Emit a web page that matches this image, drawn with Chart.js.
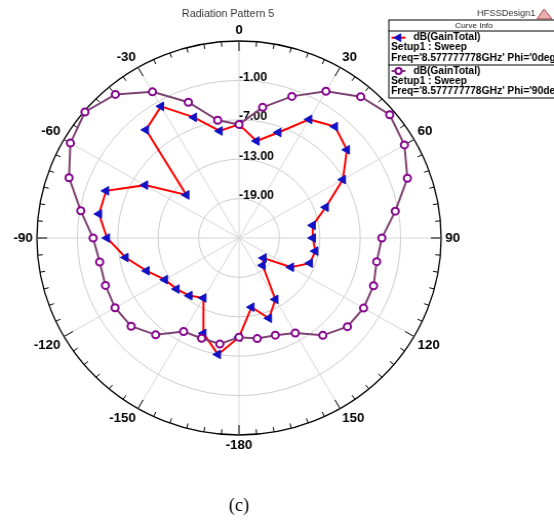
<!DOCTYPE html>
<html><head><meta charset="utf-8">
<script src="https://cdn.jsdelivr.net/npm/chart.js@4.4.1/dist/chart.umd.min.js"></script>
<style>
html,body{margin:0;padding:0;background:#fff;overflow:hidden;width:554px;height:520px;}
#wrap{position:absolute;left:0;top:0;width:554px;height:520px;transform:scaleX(1.026);transform-origin:239px 0;}
canvas{display:block;}
</style></head><body>
<div id="wrap"><canvas id="c" width="554" height="520"></canvas></div>
<script>
// ---- data ----
const angles = [0,10,20,30,40,50,60,70,80,90,100,110,120,130,140,150,160,170,180,190,200,210,220,230,240,250,260,270,280,290,300,310,320,330,340,350];
const gainPhi0 = [-7.7,-10.0,-7.9,-4.15,-2.85,-4.1,-7.2,-11.3,-13.9,-14.05,-13.5,-13.8,-16.1,-20.25,-19.55,-14.2,-12.0,-14.3,-9.9,-7.0,-9.55,-14.45,-13.55,-12.9,-12.3,-10.4,-7.9,-5.4,-3.9,-4.0,-8.9,-14.8,-3.5,-1.85,-5.45,-8.45];
const gainPhi90 = [-7.7,-4.8,-2.05,0.8,3.1,4.2,3.35,1.6,-1.45,-3.8,-4.25,-3.75,-3.65,-4.0,-5.65,-8.3,-9.25,-9.45,-9.9,-8.6,-8.75,-8.55,-5.75,-4.1,-3.75,-3.9,-4.0,-3.35,-1.15,1.85,3.9,4.85,3.55,0.7,-3.0,-6.8];
const angleLabelIdx = [0,3,6,9,12,15,18,21,24,27,30,33];
const angleLabelText = ['0','30','60','90','120','150','-180','-150','-120','-90','-60','-30'];
const radialTicks = [-19,-13,-7,-1];
const radialTickText = ['-19.00','-13.00','-7.00','-1.00'];
const titleText = 'Radiation Pattern 5';
const legendRows = [
  ['dB(GainTotal)','Setup1 : Sweep',"Freq='8.577777778GHz' Phi='0deg'"],
  ['dB(GainTotal)','Setup1 : Sweep',"Freq='8.577777778GHz' Phi='90deg'"]
];

const SX = 1.026;
const X = (rx) => 239 + (rx - 239) / SX;
const SANS = '"Liberation Sans", Arial, sans-serif';

const deco = {
  id: 'deco',
  beforeDatasetsDraw(chart) {
    const s = chart.scales.r, ctx = chart.ctx;
    const cx = s.xCenter, cy = s.yCenter, R = s.drawingArea;
    ctx.save();
    ctx.strokeStyle = '#000';
    ctx.lineWidth = 1;
    for (let a = 0; a < 360; a += 5) {
      const t = a * Math.PI / 180;
      const len = (a % 30 === 0) ? 10 : 5;
      const sx = Math.sin(t), cy2 = -Math.cos(t);
      ctx.beginPath();
      ctx.moveTo(cx + sx * R, cy + cy2 * R);
      ctx.lineTo(cx + sx * (R - len), cy + cy2 * (R - len));
      ctx.stroke();
    }
    ctx.fillStyle = '#000';
    ctx.font = 'bold 12px ' + SANS;
    ctx.textAlign = 'left';
    ctx.textBaseline = 'middle';
    radialTicks.forEach((v, i) => {
      const d = s.getDistanceFromCenterForValue(v);
      ctx.fillText(radialTickText[i], cx, cy - d - 3);
    });
    ctx.restore();
  },
  afterDraw(chart) {
    const s = chart.scales.r, ctx = chart.ctx;
    const R = s.drawingArea;
    ctx.save();
    // angle labels
    ctx.fillStyle = '#000';
    ctx.font = 'bold 13px ' + SANS;
    angleLabelIdx.forEach((idx, i) => {
      const p = s.getPointPosition(idx, R + 4);
      const deg = angles[idx];
      let align = 'center', base = 'middle';
      if (deg > 0 && deg < 180) align = 'left';
      else if (deg > 180) align = 'right';
      if (deg < 90 || deg > 270) base = 'bottom';
      else if (deg > 90 && deg < 270) base = 'top';
      ctx.textAlign = align; ctx.textBaseline = base;
      ctx.fillText(angleLabelText[i], p.x, p.y);
    });
    // title
    ctx.fillStyle = '#333';
    ctx.font = '10.5px ' + SANS;
    ctx.textAlign = 'center'; ctx.textBaseline = 'middle';
    ctx.fillText(titleText, X(228), 14);
    // HFSSDesign1
    ctx.font = '9px ' + SANS;
    ctx.textAlign = 'left';
    ctx.fillText('HFSSDesign1', X(477), 14);
    // small logo
    ctx.beginPath();
    ctx.moveTo(X(544), 9); ctx.lineTo(X(537), 19); ctx.lineTo(X(552), 19); ctx.closePath();
    ctx.fillStyle = '#e8b0b0'; ctx.fill();
    ctx.strokeStyle = '#b04040'; ctx.lineWidth = 1; ctx.stroke();
    // legend box
    const bx = X(388.3), by = 19.5, bw = 560 - bx, bh = 78;
    ctx.fillStyle = '#fff';
    ctx.fillRect(bx, by, bw, bh);
    ctx.strokeStyle = '#000'; ctx.lineWidth = 1;
    ctx.strokeRect(bx + 0.5, by + 0.5, bw, bh);
    ctx.beginPath();
    ctx.moveTo(bx, 31); ctx.lineTo(bx + bw, 31);
    ctx.moveTo(bx, 65); ctx.lineTo(bx + bw, 65);
    ctx.stroke();
    ctx.fillStyle = '#222';
    ctx.font = '8px ' + SANS;
    ctx.textAlign = 'center'; ctx.textBaseline = 'middle';
    ctx.fillText('Curve Info', X(474), 25.5);
    const ds = chart.data.datasets;
    const rowY = [37.7, 71];
    const legendDs = [ds[1], ds[0]];
    legendDs.forEach((d, i) => {
      const y = rowY[i];
      ctx.strokeStyle = d.borderColor; ctx.lineWidth = 2;
      ctx.beginPath(); ctx.moveTo(X(391.5), y); ctx.lineTo(X(405.5), y); ctx.stroke();
      ctx.fillStyle = d.pointBackgroundColor; ctx.strokeStyle = d.pointBorderColor; ctx.lineWidth = d.pointBorderWidth;
      Chart.helpers.drawPoint(ctx, {pointStyle: d.pointStyle, rotation: d.rotation || 0, radius: d.pointRadius - 0.5, borderWidth: d.pointBorderWidth}, X(398.5), y);
      ctx.fillStyle = '#000';
      ctx.font = 'bold 10px ' + SANS;
      ctx.textAlign = 'left'; ctx.textBaseline = 'middle';
      ctx.fillText(legendRows[i][0], X(413.3), y);
      ctx.fillText(legendRows[i][1], X(391), y + 10);
      ctx.fillText(legendRows[i][2], X(391), y + 20.5);
    });
    // caption
    ctx.fillStyle = '#000';
    ctx.font = '18px "Liberation Serif", "Times New Roman", serif';
    ctx.textAlign = 'center'; ctx.textBaseline = 'middle';
    ctx.fillText('(c)', 239, 506);
    ctx.restore();
  }
};

new Chart(document.getElementById('c'), {
  type: 'radar',
  data: {
    labels: angles,
    datasets: [
      {
        label: "Phi='90deg'",
        data: gainPhi90,
        borderColor: '#7d4272',
        borderWidth: 2,
        pointStyle: 'circle',
        pointRadius: 3.5,
        pointBorderWidth: 2,
        pointBorderColor: '#85068f',
        pointBackgroundColor: '#ffffff',
        fill: false,
        order: 0
      },
      {
        label: "Phi='0deg'",
        data: gainPhi0,
        borderColor: '#ff0000',
        borderWidth: 2,
        pointStyle: 'triangle',
        rotation: -90,
        pointRadius: 5,
        pointBorderWidth: 1,
        pointBorderColor: '#1212c4',
        pointBackgroundColor: '#1212c4',
        fill: false,
        order: 1
      }
    ]
  },
  options: {
    responsive: false,
    animation: false,
    events: [],
    layout: { padding: { left: 42, right: 118, top: 41, bottom: 85 } },
    elements: { line: { tension: 0 } },
    plugins: { legend: { display: false }, tooltip: { enabled: false }, title: { display: false } },
    scales: {
      r: {
        min: -25, max: 5, startAngle: 0,
        ticks: { display: false, stepSize: 6 },
        pointLabels: { display: false },
        grid: {
          circular: true,
          color: (c) => (c.tick && c.tick.value >= 5) ? '#000000' : ((c.tick && c.tick.value <= -25) ? 'rgba(0,0,0,0)' : '#cccccc'),
          lineWidth: (c) => (c.tick && c.tick.value >= 5) ? 1.3 : 1
        },
        angleLines: {
          display: true,
          color: (c) => (c.index % 3 === 0) ? '#d6d6d6' : 'rgba(0,0,0,0)',
          lineWidth: 1
        }
      }
    }
  },
  plugins: [deco]
});
</script>
</body></html>
